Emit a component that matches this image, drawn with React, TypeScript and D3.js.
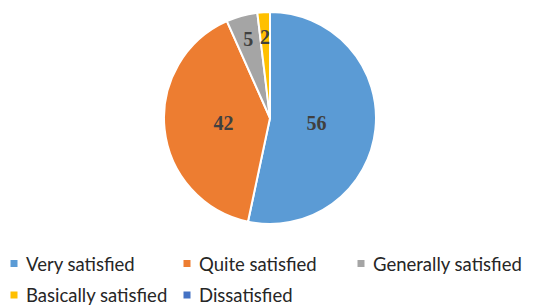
import { useEffect, useRef } from 'react';
import * as d3 from 'd3';

const categories = ['Very satisfied', 'Quite satisfied', 'Generally satisfied', 'Basically satisfied', 'Dissatisfied'];
const values = [56, 42, 5, 2, 0];
const colors = ['#5B9BD5', '#ED7D31', '#A5A5A5', '#FFC000', '#4472C4'];

interface Slice {
  name: string;
  value: number;
  color: string;
}

const slices: Slice[] = categories.map((name, i) => ({ name, value: values[i], color: colors[i] }));

export default function App() {
  const svgRef = useRef<SVGSVGElement>(null);

  useEffect(() => {
    if (!svgRef.current) return;
    const svg = d3.select(svgRef.current);
    svg.selectAll('*').remove();

    const width = 535;
    const height = 306;
    const cx = 270;
    const cy = 118;
    const radius = 106;
    const total = d3.sum(values);

    svg.attr('width', width).attr('height', height);

    const pie = d3
      .pie<Slice>()
      .sort(null)
      .value((d) => d.value);
    const arcs = pie(slices);

    const arc = d3.arc<d3.PieArcDatum<Slice>>().innerRadius(0).outerRadius(radius);

    const g = svg.append('g').attr('transform', `translate(${cx},${cy})`);

    g.selectAll('.slice')
      .data(arcs.filter((d) => d.value > 0))
      .enter()
      .append('path')
      .attr('class', 'slice')
      .attr('d', arc)
      .attr('fill', (d) => d.data.color)
      .attr('stroke', '#ffffff')
      .attr('stroke-width', 2)
      .attr('stroke-linejoin', 'round');

    // Labels: big slices nearer the middle, thin ones near the rim
    g.selectAll('.label')
      .data(arcs.filter((d) => d.value > 0))
      .enter()
      .append('text')
      .attr('class', 'label')
      .attr('transform', (d) => {
        const r = d.value / total > 0.3 ? radius * 0.44 : radius * 0.77;
        const a = (d.startAngle + d.endAngle) / 2;
        return `translate(${Math.sin(a) * r},${-Math.cos(a) * r})`;
      })
      .attr('text-anchor', 'middle')
      .attr('dominant-baseline', 'central')
      .attr('font-family', '"Liberation Serif", serif')
      .attr('font-weight', 'bold')
      .attr('font-size', '20px')
      .attr('fill', '#404040')
      .text((d) => d.value);

    // Legend
    const legendX = [10, 183, 357];
    const legendY = [263.5, 295];
    const legend = svg
      .selectAll('.legend')
      .data(slices)
      .enter()
      .append('g')
      .attr('class', 'legend')
      .attr('transform', (_d, i) => `translate(${legendX[i % 3]},${legendY[Math.floor(i / 3)]})`);

    legend
      .append('rect')
      .attr('x', 0.5)
      .attr('y', -3.5)
      .attr('width', 7)
      .attr('height', 7)
      .attr('fill', (d) => d.color);

    legend
      .append('text')
      .attr('x', 16)
      .attr('y', 0)
      .attr('dominant-baseline', 'central')
      .attr('font-family', 'Lato, "Noto Sans", sans-serif')
      .attr('font-size', '18.5px')
      .attr('fill', '#262626')
      .text((d) => d.name);
  }, []);

  return (
    <div style={{ position: 'absolute', left: 0, top: 0 }}>
      <svg ref={svgRef} />
    </div>
  );
}
